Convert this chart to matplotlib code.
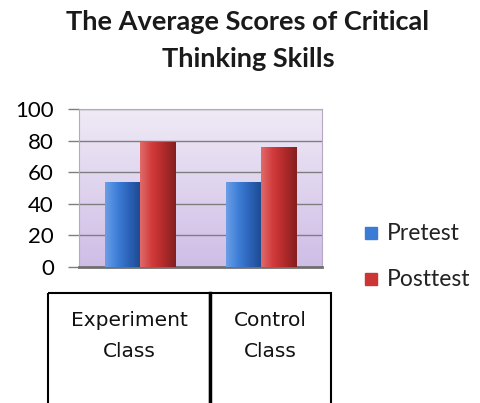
import matplotlib

matplotlib.use("Agg")
import matplotlib.pyplot as plt
import numpy as np
from matplotlib.colors import LinearSegmentedColormap
from matplotlib.patches import Rectangle

# data
classes = ["Experiment\nClass", "Control\nClass"]
series = ["Pretest", "Posttest"]
pretest = [54, 54]
posttest = [79, 76]
yticks = [0, 20, 40, 60, 80, 100]

W, H = 481, 403
BLUE = "#3a7bd5"
RED = "#cc3535"
BLUE_GRAD = ["#6a9ee6", "#3f7fd8", "#2c63b8", "#1d4a8f"]
RED_GRAD = ["#e06a6a", "#d23a3a", "#b12a2a", "#842020"]

plt.rcParams["font.family"] = ["Lato", "DejaVu Sans"]

fig = plt.figure(figsize=(W / 100, H / 100), dpi=100)


def px_axes(x0, y0, x1, y1):
    return fig.add_axes([x0 / W, 1 - y1 / H, (x1 - x0) / W, (y1 - y0) / H])


ax = px_axes(79, 109, 322, 267)
x = np.arange(len(classes))
bw = 0.29

# lavender gradient background
bg = LinearSegmentedColormap.from_list("bg", ["#efeaf6", "#cfbde6"])
ax.imshow(np.linspace(0, 1, 100).reshape(-1, 1), extent=[0, 1, 0, 1],
          transform=ax.transAxes, aspect="auto", cmap=bg, zorder=0)

for v in yticks[1:]:
    ax.axhline(v, color="#7e7e7e", lw=1.0, zorder=1)

bars_pre = ax.bar(x - bw / 2, pretest, bw, color=BLUE, zorder=3, label=series[0])
bars_post = ax.bar(x + bw / 2, posttest, bw, color=RED, zorder=3, label=series[1])

# horizontal shading on each bar to mimic the 3-D look
for bars, cols in ((bars_pre, BLUE_GRAD), (bars_post, RED_GRAD)):
    cm = LinearSegmentedColormap.from_list("g", cols)
    for b in bars:
        im = ax.imshow(np.linspace(0, 1, 50).reshape(1, -1),
                       extent=[b.get_x(), b.get_x() + b.get_width(), 0, b.get_height()],
                       aspect="auto", cmap=cm, zorder=4)
        im.set_clip_path(b)

ax.set_xlim(-0.5, 1.5)
ax.set_ylim(0, 100)
ax.set_yticks(yticks)
ax.set_xticks([])
ax.tick_params(axis="y", length=8, width=1, color="#7e7e7e", pad=10, labelsize=16)
for s in ("top", "right", "left"):
    ax.spines[s].set_color("#b4a8c4")
    ax.spines[s].set_linewidth(0.8)
ax.spines["bottom"].set_color("#6f6f6f")
ax.spines["bottom"].set_linewidth(2.0)

# overlay in pixel coordinates for title, legend and the label table
ov = fig.add_axes([0, 0, 1, 1], zorder=-1)
ov.set_xlim(0, W)
ov.set_ylim(H, 0)
ov.axis("off")

ov.text(248, 22, "The Average Scores of Critical", ha="center", va="center",
        fontsize=19.5, fontweight="bold", color="#1a1a1a")
ov.text(248, 59, "Thinking Skills", ha="center", va="center",
        fontsize=19.5, fontweight="bold", color="#1a1a1a")

for i, (lab, col) in enumerate(zip(series, (BLUE, RED))):
    yc = 233 + 46 * i
    ov.add_patch(Rectangle((365, yc - 6), 12, 12, color=col))
    ov.text(387, yc, lab, ha="left", va="center", fontsize=16.5, color="#222222")

# boxed category labels below the plot
edges = [48, 210, 331]
for i, lab in enumerate(classes):
    ov.add_patch(Rectangle((edges[i], 293), edges[i + 1] - edges[i], 130,
                           fill=False, ec="black", lw=1.5, clip_on=False))
    ov.text((edges[i] + edges[i + 1]) / 2, 336, lab, ha="center", va="center",
            fontsize=14.5, family=["DejaVu Sans"], linespacing=1.8, color="#111111")
ov.plot([210, 210], [293, 403], color="black", lw=2.5)

fig.savefig("out.png", dpi=100)
